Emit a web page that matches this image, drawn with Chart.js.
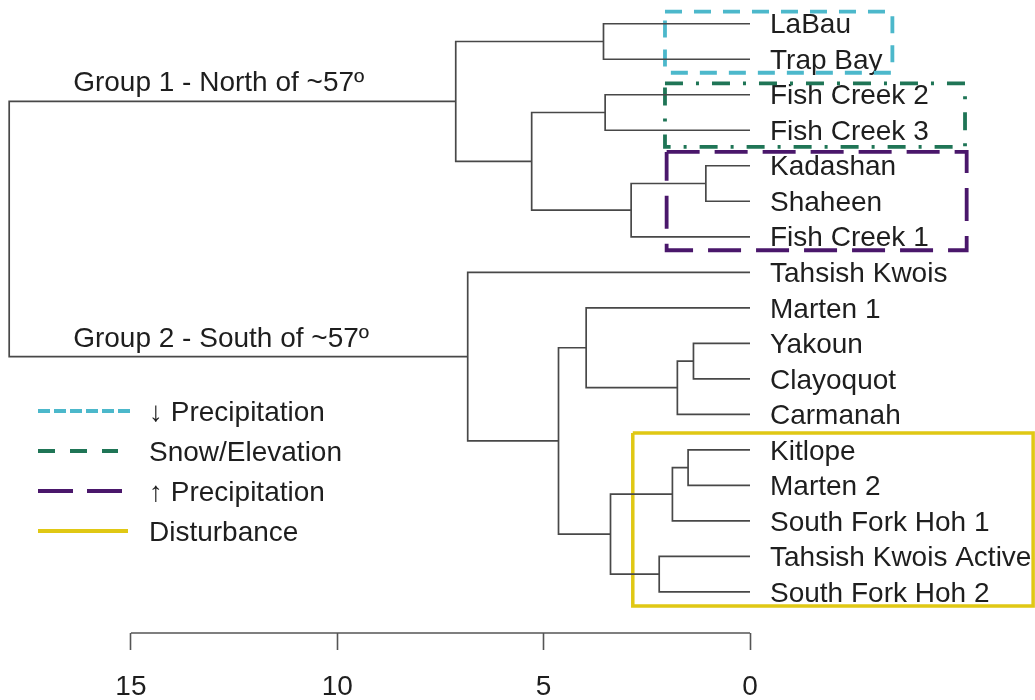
<!DOCTYPE html>
<html>
<head>
<meta charset="utf-8">
<script src="https://cdn.jsdelivr.net/npm/chart.js@4/dist/chart.umd.min.js"></script>
<style>
  html, body { margin: 0; padding: 0; background: #ffffff; }
  #wrap { width: 1035px; height: 700px; position: relative; }
</style>
</head>
<body>
<div id="wrap"><canvas id="c" width="1035" height="700"></canvas></div>
<script>
// ---------- DATA ----------
const leafNames = ["LaBau", "Trap Bay", "Fish Creek 2", "Fish Creek 3", "Kadashan", "Shaheen",
  "Fish Creek 1", "Tahsish Kwois", "Marten 1", "Yakoun", "Clayoquot", "Carmanah", "Kitlope",
  "Marten 2", "South Fork Hoh 1", "Tahsish Kwois Active", "South Fork Hoh 2"];

// hclust-style merges: negative = leaf (1-based), positive = earlier merge (1-based)
const mergeLeft   = [-1, -3, -5, 3, 2, 1, -10, 7, -9, -13, 10, -16, 11, 9, -8, 6];
const mergeRight  = [-2, -4, -6, -7, 4, 5, -11, -12, 8, -14, -15, -17, 12, 13, 14, 15];
const mergeHeight = [3.55, 3.51, 1.07, 2.88, 5.29, 7.13, 1.37, 1.76, 3.97, 1.50, 1.88, 2.20, 3.38, 4.64, 6.84, 17.95];

const xTickValues = [0, 5, 10, 15];

const groupLabels = ["Group 1 - North of ~57º", "Group 2 - South of ~57º"];
const groupMerge = [6, 15];          // merges the group labels sit on
const groupLabelX = 16.4;            // left edge of group labels, in height units

// highlight boxes (x: height units, y: leaf-position units)
const boxNames  = ["↓ Precipitation", "Snow/Elevation", "↑ Precipitation", "Disturbance"];
const boxXLeft  = [2.06, 2.06, 2.02, 2.84];
const boxXRight = [-3.45, -5.21, -5.25, -6.86];
const boxYTop   = [0.66, 2.68, 4.61, 12.53];
const boxYBot   = [2.38, 4.47, 7.38, 17.40];

// ---------- STYLE ----------
const FONT = "'Liberation Sans', Arial, Helvetica, sans-serif";
const FS = 28;
const TEXT = "#1e1e1e";
const TREE = "#484848";
const boxColors = ["#4cb8cb", "#1f7556", "#4a176b", "#e0c814"];
const boxDash   = [[17, 12], [18, 13, 3, 13], [33, 15], []];
const legendDash = [[12, 4], [17, 15], [35, 14], []];
const legendLen = [95, 80, 85, 90];

// ---------- BUILD TREE ----------
const nodeY = [], nodeH = [];
function posOf(ref) {
  if (ref < 0) return { y: -ref, h: 0 };
  return { y: nodeY[ref - 1], h: nodeH[ref - 1] };
}
const datasets = [];
for (let i = 0; i < mergeHeight.length; i++) {
  const a = posOf(mergeLeft[i]), b = posOf(mergeRight[i]);
  const h = mergeHeight[i];
  nodeY.push((a.y + b.y) / 2);
  nodeH.push(h);
  datasets.push({
    data: [{ x: a.h, y: a.y }, { x: h, y: a.y }, { x: h, y: b.y }, { x: b.h, y: b.y }],
    showLine: true, borderColor: TREE, borderWidth: 1.7, pointRadius: 0,
    fill: false, tension: 0, clip: false
  });
}
for (let i = 0; i < boxNames.length; i++) {
  datasets.push({
    data: [
      { x: boxXLeft[i], y: boxYTop[i] }, { x: boxXRight[i], y: boxYTop[i] },
      { x: boxXRight[i], y: boxYBot[i] }, { x: boxXLeft[i], y: boxYBot[i] },
      { x: boxXLeft[i], y: boxYTop[i] }
    ],
    showLine: true, borderColor: boxColors[i], borderWidth: i === 3 ? 3.5 : 3.8,
    borderDash: boxDash[i], pointRadius: 0, fill: false, tension: 0, clip: false,
    borderCapStyle: 'butt', borderJoinStyle: 'miter'
  });
}

// ---------- EXTRA DRAWING ----------
const extras = {
  id: 'extras',
  afterDraw(chart) {
    const ctx = chart.ctx, xs = chart.scales.x, ys = chart.scales.y;
    ctx.save();
    // axis line from 15 to 0
    ctx.strokeStyle = "#555555";
    ctx.lineWidth = 1.6;
    ctx.beginPath();
    const yb = chart.chartArea.bottom;
    ctx.moveTo(xs.getPixelForValue(Math.max(...xTickValues)), yb);
    ctx.lineTo(xs.getPixelForValue(Math.min(...xTickValues)), yb);
    ctx.stroke();
    // group labels
    ctx.fillStyle = TEXT;
    ctx.font = FS + "px " + FONT;
    ctx.textAlign = "left";
    ctx.textBaseline = "alphabetic";
    for (let g = 0; g < groupLabels.length; g++) {
      const yPix = ys.getPixelForValue(nodeY[groupMerge[g] - 1]);
      ctx.fillText(groupLabels[g], xs.getPixelForValue(groupLabelX), yPix - 10);
    }
    // legend
    const lx = 38, ly0 = 411, lstep = 40, tx = 149;
    for (let i = 0; i < boxNames.length; i++) {
      const y = ly0 + i * lstep;
      ctx.strokeStyle = boxColors[i];
      ctx.lineWidth = 4;
      ctx.setLineDash(legendDash[i]);
      ctx.lineCap = 'butt';
      ctx.beginPath();
      ctx.moveTo(lx, y);
      ctx.lineTo(lx + legendLen[i], y);
      ctx.stroke();
      ctx.setLineDash([]);
      ctx.fillStyle = TEXT;
      ctx.textBaseline = "middle";
      ctx.fillText(boxNames[i], tx, y + 2);
    }
    ctx.restore();
  }
};

new Chart(document.getElementById('c'), {
  type: 'scatter',
  data: { datasets },
  options: {
    responsive: false,
    animation: false,
    events: [],
    layout: { padding: { left: 3, top: 6, right: 0, bottom: 0 } },
    plugins: { legend: { display: false }, tooltip: { enabled: false } },
    scales: {
      x: {
        type: 'linear', reverse: true, min: 0, max: 18.1, position: 'bottom',
        afterBuildTicks: s => { s.ticks = xTickValues.map(v => ({ value: v })); },
        afterFit: s => { s.height = 67; s.paddingLeft = 0; s.paddingRight = 0; },
        ticks: { autoSkip: false, maxRotation: 0, color: TEXT, padding: 20,
                 font: { family: FONT, size: FS } },
        grid: { drawOnChartArea: false, drawTicks: true, tickLength: 17,
                tickColor: "#555555", tickWidth: 1.6 },
        border: { display: false }
      },
      y: {
        type: 'linear', reverse: true, min: 0.5, max: 18.16, position: 'right',
        afterBuildTicks: s => { s.ticks = leafNames.map((n, i) => ({ value: i + 1 })); },
        afterFit: s => { s.width = 285; s.paddingTop = 0; s.paddingBottom = 0; },
        ticks: { autoSkip: false, color: TEXT, padding: 20, labelOffset: 2,
                 font: { family: FONT, size: FS },
                 callback: v => leafNames[Math.round(v) - 1] },
        grid: { display: false, drawTicks: false },
        border: { display: false }
      }
    }
  },
  plugins: [extras]
});
</script>
</body>
</html>
